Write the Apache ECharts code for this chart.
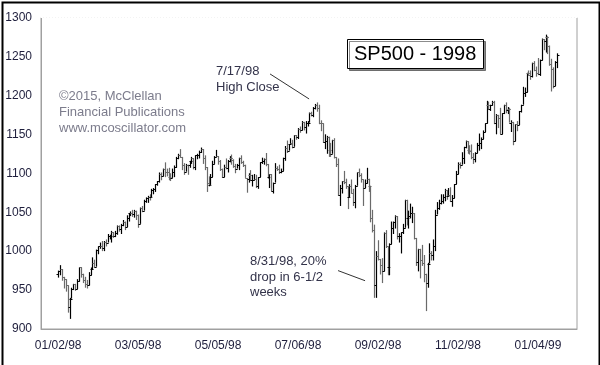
<!DOCTYPE html>
<html><head><meta charset="utf-8">
<script src="https://cdn.jsdelivr.net/npm/echarts@6/dist/echarts.min.js"></script>
<style>html,body{margin:0;padding:0;background:#fff}#c{width:600px;height:365px}</style>
</head><body><div id="c"></div>
<script>
// Tick labels on the trading-day axis (index of trading day from 01/02/98)
const tickIndex = [0, 42, 84, 126, 168, 210, 252];
const tickLabels = ['01/02/98','03/05/98','05/05/98','07/06/98','09/02/98','11/02/98','01/04/99'];

// Daily bars [open, high, low, close]
const jan98 = [[970,975,966,975],[975,982,969,977],[977,977,962,967],[967,967,952,964],[964,964,948,956],[956,956,921,928],[928,940,913,939],[939,953,939,952],[952,958,950,958],[958,958,949,951],[951,964,951,962],[962,979,961,979],[979,979,966,971],[971,971,959,963],[963,967,953,958],[958,963,952,957],[957,973,956,969],[969,979,969,977],[977,992,976,985],[985,989,979,980]];
const feb98 = [[980,1002,980,1001],[1001,1006,996,1006],[1006,1011,1003,1007],[1007,1013,1000,1004],[1004,1013,1000,1012],[1012,1015,1006,1011],[1011,1022,1011,1019],[1019,1021,1015,1020],[1020,1026,1011,1024],[1024,1024,1017,1020],[1020,1026,1018,1023],[1023,1033,1021,1032],[1032,1033,1025,1028],[1028,1035,1022,1034],[1034,1040,1032,1038],[1038,1038,1027,1031],[1031,1046,1031,1043],[1043,1049,1038,1049],[1049,1051,1045,1049]];
const mar98 = [[1049,1053,1044,1048],[1048,1053,1043,1052],[1052,1052,1040,1047],[1047,1047,1030,1035],[1035,1056,1035,1056],[1056,1058,1050,1052],[1052,1066,1052,1064],[1064,1069,1062,1068],[1068,1071,1062,1070],[1070,1073,1065,1069],[1069,1080,1069,1079],[1079,1081,1073,1080],[1080,1086,1076,1086],[1086,1090,1084,1090],[1090,1101,1088,1099],[1099,1101,1091,1096],[1096,1106,1096,1106],[1106,1114,1095,1102],[1102,1106,1096,1101],[1101,1107,1091,1095],[1095,1100,1090,1094],[1094,1106,1094,1102]];
const apr98 = [[1102,1110,1095,1108],[1108,1121,1107,1120],[1120,1125,1118,1123],[1123,1131,1120,1121],[1121,1121,1104,1110],[1110,1113,1098,1102],[1102,1112,1102,1111],[1111,1111,1098,1110],[1110,1116,1107,1116],[1116,1121,1112,1119],[1119,1119,1105,1108],[1108,1123,1104,1123],[1123,1125,1118,1124],[1124,1129,1119,1127],[1127,1133,1126,1131],[1131,1131,1112,1120],[1120,1123,1104,1108],[1108,1108,1076,1087],[1087,1096,1083,1085],[1085,1099,1085,1095],[1095,1116,1095,1112]];
const may98 = [[1112,1122,1112,1121],[1121,1130,1121,1122],[1122,1122,1111,1116],[1116,1117,1103,1105],[1105,1106,1094,1095],[1095,1111,1095,1108],[1108,1119,1105,1107],[1107,1117,1101,1116],[1116,1122,1114,1119],[1119,1124,1111,1117],[1117,1118,1107,1109],[1109,1112,1100,1106],[1106,1112,1106,1110],[1110,1120,1104,1119],[1119,1123,1112,1115],[1115,1116,1108,1110],[1110,1111,1094,1094],[1094,1094,1075,1092],[1092,1100,1088,1098],[1098,1104,1090,1091]];
const jun98 = [[1091,1098,1083,1091],[1091,1099,1091,1093],[1093,1098,1081,1083],[1083,1095,1080,1095],[1095,1114,1095,1114],[1114,1120,1112,1116],[1116,1119,1111,1118],[1118,1126,1109,1112],[1112,1112,1093,1095],[1095,1099,1081,1099],[1099,1099,1077,1077],[1077,1088,1074,1088],[1088,1113,1088,1107],[1107,1109,1103,1106],[1106,1111,1099,1101],[1101,1106,1100,1103],[1103,1120,1103,1119],[1119,1135,1116,1133],[1133,1142,1126,1129],[1129,1137,1129,1137],[1137,1145,1137,1139],[1139,1143,1132,1134]];
const jul98 = [[1134,1149,1134,1149],[1149,1149,1143,1146],[1146,1158,1144,1157],[1157,1160,1152,1155],[1155,1167,1155,1166],[1166,1166,1155,1159],[1159,1167,1151,1164],[1164,1167,1160,1165],[1165,1178,1165,1177],[1177,1179,1173,1175],[1175,1185,1172,1184],[1184,1189,1182,1187],[1187,1191,1179,1184],[1184,1188,1163,1165],[1165,1168,1154,1164],[1164,1164,1139,1140],[1140,1150,1131,1141],[1141,1148,1125,1147],[1147,1147,1121,1130],[1130,1139,1121,1125],[1125,1143,1125,1143],[1143,1145,1119,1121]];
const aug98 = [[1121,1121,1108,1112],[1112,1119,1071,1072],[1072,1085,1058,1081],[1081,1090,1074,1090],[1090,1103,1086,1089],[1089,1093,1080,1083],[1083,1083,1054,1069],[1069,1086,1069,1084],[1084,1092,1074,1075],[1075,1080,1058,1063],[1063,1085,1055,1084],[1084,1101,1084,1101],[1101,1106,1095,1098],[1098,1100,1088,1092],[1092,1092,1058,1081],[1081,1092,1081,1088],[1088,1107,1087,1093],[1093,1093,1076,1084],[1084,1084,1037,1043],[1043,1053,1024,1027],[1027,1034,940,957]];
const sep98 = [[957,1000,940,994],[994,1014,988,990],[990,990,970,982],[982,991,959,974],[974,1024,974,1023],[1023,1027,1004,1006],[1006,1006,969,980],[980,1010,969,1009],[1009,1038,1009,1030],[1030,1038,1022,1038],[1038,1046,1029,1045],[1045,1045,1015,1019],[1019,1023,1011,1020],[1020,1024,997,1024],[1024,1035,1022,1030],[1030,1066,1030,1066],[1066,1066,1033,1043],[1043,1052,1029,1045],[1045,1061,1042,1049],[1049,1057,1036,1049],[1049,1049,1015,1017]];
const oct98 = [[1017,1017,981,986],[986,1003,974,1003],[1003,1003,965,989],[989,1008,981,985],[985,995,960,971],[971,971,923,959],[959,985,953,984],[984,1010,984,998],[998,1000,988,995],[995,1015,988,1006],[1006,1053,1000,1047],[1047,1063,1047,1056],[1056,1066,1053,1062],[1062,1073,1060,1064],[1064,1073,1061,1070],[1070,1080,1064,1078],[1078,1078,1066,1071],[1071,1081,1070,1072],[1072,1082,1063,1065],[1065,1072,1057,1068],[1068,1086,1068,1086],[1086,1103,1086,1099]];
const nov98 = [[1099,1114,1099,1112],[1112,1114,1106,1111],[1111,1127,1111,1119],[1119,1134,1112,1134],[1134,1142,1132,1141],[1141,1141,1125,1130],[1130,1136,1124,1128],[1128,1137,1118,1121],[1121,1126,1112,1118],[1118,1127,1114,1126],[1126,1139,1126,1136],[1136,1151,1129,1139],[1139,1146,1131,1144],[1144,1155,1144,1153],[1153,1164,1153,1164],[1164,1193,1164,1188],[1188,1192,1182,1183],[1183,1188,1180,1187],[1187,1193,1187,1192],[1192,1193,1163,1164]];
const dec98 = [[1164,1176,1150,1175],[1175,1175,1158,1171],[1171,1184,1150,1150],[1150,1177,1150,1177],[1177,1188,1176,1188],[1188,1191,1177,1181],[1181,1185,1176,1183],[1183,1184,1165,1165],[1165,1168,1153,1166],[1166,1166,1136,1141],[1141,1163,1141,1163],[1163,1167,1154,1162],[1162,1180,1162,1180],[1180,1188,1178,1188],[1188,1211,1188,1203],[1203,1210,1198,1204],[1204,1229,1204,1229],[1229,1232,1225,1226],[1226,1232,1220,1225],[1225,1242,1223,1242],[1242,1244,1231,1232],[1232,1237,1224,1229]];
const jan99 = [[1229,1248,1226,1228],[1228,1246,1225,1245],[1245,1273,1245,1272],[1272,1272,1258,1270],[1270,1278,1255,1275],[1275,1276,1253,1264],[1264,1264,1238,1240],[1240,1247,1205,1234],[1234,1236,1209,1212],[1212,1244,1212,1243],[1243,1254,1235,1252]];

// Annotation pointer lines [tradingDayIndex, value]
const pointerHigh = [[111.3, 1227.5], [131.8, 1195.4]];
const pointerDrop = [[147, 975], [161.2, 962]];

const bars = [].concat(jan98, feb98, mar98, apr98, may98, jun98, jul98, aug98, sep98, oct98, nov98, dec98, jan99);
const barData = bars.map((b, i) => [i, b[0], b[1], b[2], b[3]]);

const FONT = '"Liberation Sans", Arial, sans-serif';
const chart = echarts.init(document.getElementById('c'), null, {renderer: 'canvas'});

function renderItem(params, api) {
  const i = api.value(0);
  const o = api.coord([i, api.value(1)]);
  const h = api.coord([i, api.value(2)]);
  const l = api.coord([i, api.value(3)]);
  const c = api.coord([i, api.value(4)]);
  const x = Math.round(h[0]) + 0.5;
  const color = api.value(4) >= api.value(1) ? '#000000' : '#6a6a6a';
  const oy = Math.round(o[1]) + 0.5, cy = Math.round(c[1]) + 0.5;
  return {
    type: 'group',
    children: [
      {type: 'line', shape: {x1: x, y1: h[1], x2: x, y2: l[1]}, style: {stroke: color, lineWidth: 1.2}},
      {type: 'line', shape: {x1: x - 2, y1: oy, x2: x, y2: oy}, style: {stroke: color, lineWidth: 1}},
      {type: 'line', shape: {x1: x, y1: cy, x2: x + 2, y2: cy}, style: {stroke: color, lineWidth: 1}}
    ]
  };
}

const option = {
  animation: false,
  backgroundColor: '#ffffff',
  title: {
    text: 'SP500 - 1998',
    left: 347, top: 39,
    padding: [5, 7, 5, 7],
    borderColor: '#000', borderWidth: 1,
    backgroundColor: '#fff',
    shadowColor: 'rgba(0,0,0,0.45)', shadowOffsetX: 2, shadowOffsetY: 2, shadowBlur: 0,
    textStyle: {fontFamily: FONT, fontSize: 20, fontWeight: 'normal', color: '#000', lineHeight: 20}
  },
  grid: {left: 41, right: 23, top: 17.5, bottom: 36, show: true, borderColor: '#a0a0a0', borderWidth: 1, backgroundColor: 'transparent'},
  xAxis: [{
    type: 'value', min: -9, max: 272.5,
    axisLine: {show: true, onZero: false, lineStyle: {color: '#a0a0a0', width: 1}},
    axisTick: {show: false},
    splitLine: {show: false},
    axisLabel: {
      customValues: tickIndex,
      margin: 11,
      fontFamily: FONT, fontSize: 12, color: '#1e1e3c',
      formatter: v => { const k = tickIndex.indexOf(Math.round(v)); return k >= 0 ? tickLabels[k] : ''; }
    }
  }, {
    type: 'value', min: -9, max: 272.5, position: 'top',
    axisLine: {show: true, onZero: false, lineStyle: {color: '#ffffff', width: 1.2, type: [2, 1]}},
    axisTick: {show: false}, axisLabel: {show: false}, splitLine: {show: false}
  }],
  yAxis: [{
    type: 'value', min: 900, max: 1300, interval: 50,
    axisLine: {show: true, onZero: false, lineStyle: {color: '#a0a0a0', width: 1}},
    axisTick: {show: false},
    splitLine: {show: false},
    axisLabel: {margin: 9, fontFamily: FONT, fontSize: 12, color: '#1e1e3c', formatter: v => String(v)}
  }],
  series: [
    {
      type: 'custom', renderItem: renderItem, data: barData,
      encode: {x: 0, y: [1, 2, 3, 4]}, clip: false, silent: true
    },
    {
      type: 'line', data: pointerHigh, symbol: 'none', silent: true,
      lineStyle: {color: '#333333', width: 1}
    },
    {
      type: 'line', data: pointerDrop, symbol: 'none', silent: true,
      lineStyle: {color: '#333333', width: 1}
    }
  ],
  graphic: [
    {type: 'rect', left: 0, top: 0, shape: {width: 597, height: 364}, style: {fill: 'none', stroke: '#000', lineWidth: 2}, silent: true, z: 100},
    {type: 'text', left: 59, top: 88, style: {text: '©2015, McClellan\nFinancial Publications\nwww.mcoscillator.com', font: '13px ' + FONT, fill: '#7c7c8c', lineHeight: 16}},
    {type: 'text', left: 216, top: 64, style: {text: '7/17/98\nHigh Close', font: '13px ' + FONT, fill: '#33334a', lineHeight: 15.5}},
    {type: 'text', left: 250, top: 254, style: {text: '8/31/98, 20%\ndrop in 6-1/2\nweeks', font: '13px ' + FONT, fill: '#33334a', lineHeight: 15.5}}
  ]
};
chart.setOption(option);
</script>
</body></html>
